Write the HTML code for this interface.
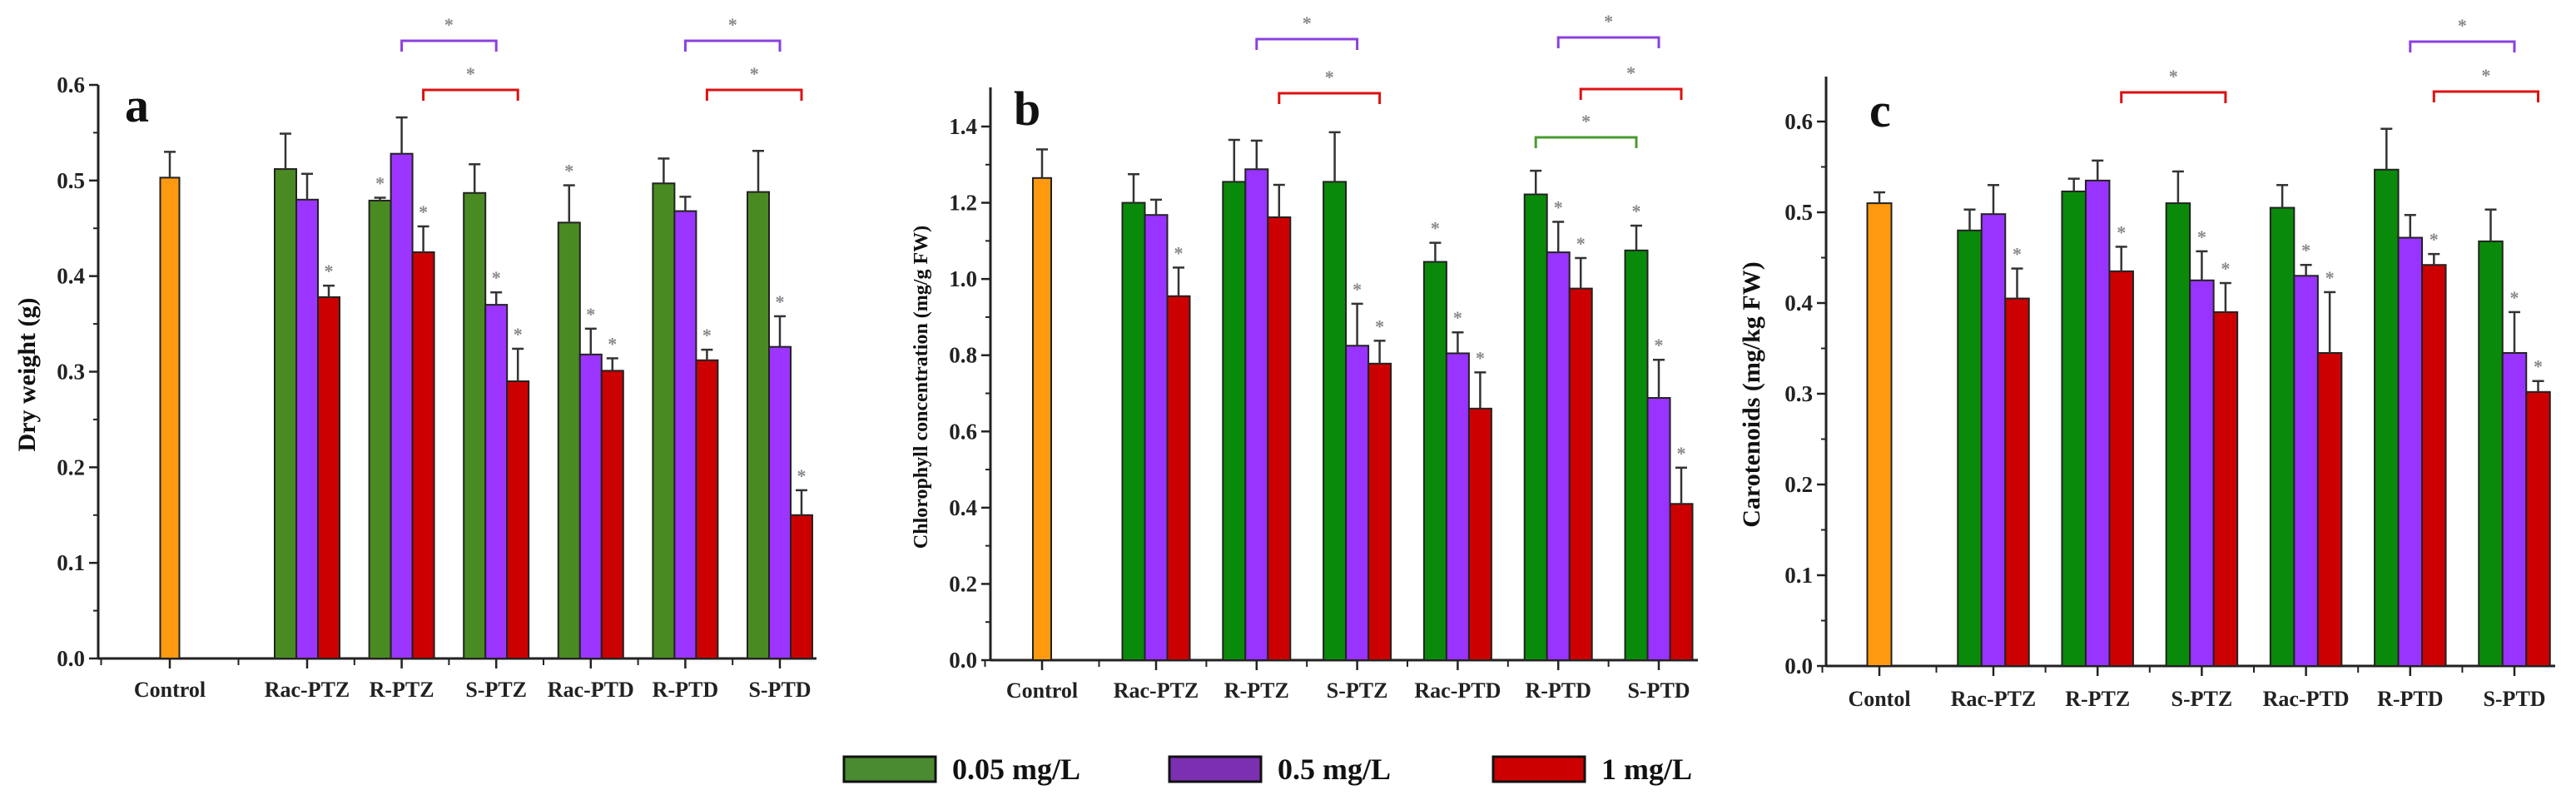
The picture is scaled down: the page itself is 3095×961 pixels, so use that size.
<!DOCTYPE html>
<html><head><meta charset="utf-8"><style>
html,body{margin:0;padding:0;background:#fff;}
svg{display:block;font-family:"Liberation Serif",serif;font-weight:bold;}
</style></head><body>
<svg id="fig" width="3095" height="961" viewBox="0 0 3095 961" xmlns="http://www.w3.org/2000/svg"></svg>
<script>
// ---------- data ----------
const categories = ['Rac-PTZ','R-PTZ','S-PTZ','Rac-PTD','R-PTD','S-PTD'];
const seriesNames = ['0.05 mg/L','0.5 mg/L','1 mg/L'];
// panel a: dry weight
const aControl = 0.503, aControlErr = 0.027;
const aLow  = [0.512,0.479,0.487,0.456,0.497,0.488];
const aMid  = [0.480,0.528,0.370,0.318,0.468,0.326];
const aHigh = [0.378,0.425,0.290,0.301,0.312,0.150];
const aLowErr  = [0.037,0.003,0.030,0.039,0.026,0.043];
const aMidErr  = [0.027,0.038,0.013,0.027,0.015,0.032];
const aHighErr = [0.012,0.027,0.034,0.013,0.011,0.026];
const aLowStar  = [0,1,0,1,0,0];
const aMidStar  = [0,0,1,1,0,1];
const aHighStar = [1,1,1,1,1,1];
const aTicks = ['0.0','0.1','0.2','0.3','0.4','0.5','0.6'];
// panel b: chlorophyll
const bControl = 1.265, bControlErr = 0.075;
const bLow  = [1.200,1.255,1.255,1.045,1.222,1.075];
const bMid  = [1.168,1.288,0.825,0.805,1.070,0.688];
const bHigh = [0.955,1.162,0.778,0.660,0.975,0.410];
const bLowErr  = [0.075,0.110,0.130,0.050,0.062,0.065];
const bMidErr  = [0.040,0.075,0.110,0.055,0.080,0.100];
const bHighErr = [0.075,0.085,0.060,0.095,0.080,0.095];
const bLowStar  = [0,0,0,1,0,1];
const bMidStar  = [0,0,1,1,1,1];
const bHighStar = [1,0,1,1,1,1];
const bTicks = ['0.0','0.2','0.4','0.6','0.8','1.0','1.2','1.4'];
// panel c: carotenoids
const cControl = 0.510, cControlErr = 0.012;
const cLow  = [0.480,0.523,0.510,0.505,0.547,0.468];
const cMid  = [0.498,0.535,0.425,0.430,0.472,0.345];
const cHigh = [0.405,0.435,0.390,0.345,0.442,0.302];
const cLowErr  = [0.023,0.014,0.035,0.025,0.045,0.035];
const cMidErr  = [0.032,0.022,0.032,0.012,0.025,0.045];
const cHighErr = [0.033,0.027,0.032,0.067,0.012,0.012];
const cLowStar  = [0,0,0,0,0,0];
const cMidStar  = [0,0,1,1,0,1];
const cHighStar = [1,1,1,1,1,1];
const cTicks = ['0.0','0.1','0.2','0.3','0.4','0.5','0.6'];

const NS='http://www.w3.org/2000/svg';
const svg=document.getElementById('fig');
function mk(tag,attrs,parent){const e=document.createElementNS(NS,tag);for(const k in attrs)e.setAttribute(k,attrs[k]);(parent||svg).appendChild(e);return e;}

function panel(cfg){
  const g=mk('g',{});
  
  
  const y=v=>cfg.y0-(v/cfg.vmax)*(cfg.y0-cfg.yTopVal);
  const xc=i=>cfg.gx0+i*cfg.step;
  const xend=cfg.xEnd;
  const ax=mk('line',{x1:cfg.ax,y1:cfg.axTop,x2:cfg.ax,y2:cfg.y0,stroke:'#222','stroke-width':3},g);
  
  
  const bx=mk('line',{x1:cfg.ax,y1:cfg.y0,x2:xend,y2:cfg.y0,stroke:'#222','stroke-width':3},g);
  
  
  const n=cfg.ticks.length;
  for(let i=0;i<n;i++){
    const v=parseFloat(cfg.ticks[i]);const yy=y(v);
    mk('line',{x1:cfg.ax-11,y1:yy,x2:cfg.ax,y2:yy,stroke:'#222','stroke-width':2.5},g);
    const t=mk('text',{x:cfg.ax-16,y:yy+9,'text-anchor':'end','font-size':27,fill:'#222'},g);
    t.textContent=cfg.ticks[i];
    
    
    if(i<n-1){const mv=(v+parseFloat(cfg.ticks[i+1]))/2;mk('line',{x1:cfg.ax-6,y1:y(mv),x2:cfg.ax,y2:y(mv),stroke:'#222','stroke-width':2},g);}
  }
  const boundaries=[cfg.ctrlX-(cfg.gx0-cfg.ctrlX)/2, cfg.ctrlX+(cfg.gx0-cfg.ctrlX)/2];
  for(let i=0;i<6;i++){boundaries.push(xc(i)+cfg.step/2);}
  [cfg.ctrlX].concat(categories.map((c,i)=>xc(i))).forEach(xx=>mk('line',{x1:xx,y1:cfg.y0,x2:xx,y2:cfg.y0+12,stroke:'#222','stroke-width':2.5},g));
  boundaries.forEach(xx=>{if(xx<xend)mk('line',{x1:xx,y1:cfg.y0,x2:xx,y2:cfg.y0+8,stroke:'#222','stroke-width':2});});
  const cl=mk('text',{x:cfg.ctrlX,y:cfg.labY,'text-anchor':'middle','font-size':26,fill:'#222'},g);
  cl.textContent=cfg.ctrlName;
  
  
  categories.forEach((c,i)=>{const t=mk('text',{x:xc(i),y:cfg.labY,'text-anchor':'middle','font-size':26,fill:'#222'},g);t.textContent=c;
    
    });
  function bar(xcen,w,v,e,col,star,name){
    const r=mk('rect',{x:xcen-w/2,y:y(v),width:w,height:cfg.y0-y(v),fill:col,stroke:'#222','stroke-width':2},g);
    
    
    const yt=y(v+e);
    mk('line',{x1:xcen,y1:y(v),x2:xcen,y2:yt,stroke:'#333','stroke-width':2.5},g);
    mk('line',{x1:xcen-7,y1:yt,x2:xcen+7,y2:yt,stroke:'#333','stroke-width':2.5},g);
    if(star){const s=mk('text',{x:xcen,y:yt-10,'text-anchor':'middle','font-size':22,fill:'#888'},g);s.textContent='*';
      
      }
  }
  bar(cfg.ctrlX,cfg.cw,cfg.ctrl,cfg.ctrlErr,'#ff9910',0,'bar-control');
  const sets=[[cfg.low,cfg.lowErr,cfg.lowStar,cfg.cols[0],'low'],[cfg.mid,cfg.midErr,cfg.midStar,cfg.cols[1],'mid'],[cfg.high,cfg.highErr,cfg.highStar,cfg.cols[2],'high']];
  categories.forEach((c,i)=>{sets.forEach((s,k)=>{bar(xc(i)+(k-1)*cfg.bw,cfg.bw,s[0][i],s[1][i],s[3],s[2][i],'bar-'+c+'-'+s[4]);});});
  cfg.brackets.forEach(b=>{
    const x1=xc(b[0])+(b[2]-1)*cfg.bw,x2=xc(b[1])+(b[2]-1)*cfg.bw,yy=b[3];
    const p=mk('path',{d:`M${x1},${yy+13} V${yy} H${x2} V${yy+13}`,fill:'none',stroke:cfg.bcols[b[2]],'stroke-width':3},g);
    
    
    const s=mk('text',{x:(x1+x2)/2,y:yy-12,'text-anchor':'middle','font-size':22,fill:'#888'},g);s.textContent='*';
    
    
  });
  const L=mk('text',{x:cfg.letterX,y:cfg.letterY,'font-size':58,fill:'#111'},g);L.textContent=cfg.id;
  
  
  const yt=mk('text',{x:cfg.ylx,y:cfg.lyy,'text-anchor':'middle','font-size':cfg.ylfs,fill:'#111',transform:`rotate(-90 ${cfg.ylx} ${cfg.lyy})`},g);
  yt.textContent=cfg.ylabel;
  
  
}

panel({id:'a',ax:118,axTop:102,y0:791,yTopVal:102,vmax:0.6,xEnd:981,gx0:369,step:113.6,ctrlX:204,cw:23,bw:26,labY:837,
  ticks:aTicks,ctrl:aControl,ctrlErr:aControlErr,ctrlName:'Control',low:aLow,mid:aMid,high:aHigh,lowErr:aLowErr,midErr:aMidErr,highErr:aHighErr,
  lowStar:aLowStar,midStar:aMidStar,highStar:aHighStar,cols:['#4a8a22','#9b35ff','#cc0000'],bcols:['#4a8a22','#8a40e0','#dd1111'],
  brackets:[[1,2,1,49],[1,2,2,108],[4,5,1,49],[4,5,2,108]],letterX:150,letterY:146,ylx:42,lyy:450,ylfs:30,ylabel:'Dry weight (g)'});
panel({id:'b',ax:1190,axTop:105,y0:793,yTopVal:152,vmax:1.4,xEnd:2040,gx0:1389,step:120.8,ctrlX:1252,cw:22,bw:27,labY:838,
  ticks:bTicks,ctrl:bControl,ctrlErr:bControlErr,ctrlName:'Control',low:bLow,mid:bMid,high:bHigh,lowErr:bLowErr,midErr:bMidErr,highErr:bHighErr,
  lowStar:bLowStar,midStar:bMidStar,highStar:bHighStar,cols:['#0a8a0a','#9933ff','#cc0000'],bcols:['#4a9a30','#8a40e0','#dd1111'],
  brackets:[[1,2,1,47],[1,2,2,112],[4,5,1,45],[4,5,2,107],[4,5,0,165]],letterX:1218,letterY:150,ylx:1114,lyy:465,ylfs:24,ylabel:'Chlorophyll concentration (mg/g FW)'});
panel({id:'c',ax:2194,axTop:92,y0:800,yTopVal:146,vmax:0.6,xEnd:3070,gx0:2395,step:125.2,ctrlX:2258,cw:29,bw:28.5,labY:848,
  ticks:cTicks,ctrl:cControl,ctrlErr:cControlErr,ctrlName:'Contol',low:cLow,mid:cMid,high:cHigh,lowErr:cLowErr,midErr:cMidErr,highErr:cHighErr,
  lowStar:cLowStar,midStar:cMidStar,highStar:cHighStar,cols:['#0a8a0a','#9933ff','#cc0000'],bcols:['#4a9a30','#8a40e0','#dd1111'],
  brackets:[[1,2,2,111],[4,5,1,50],[4,5,2,110]],letterX:2246,letterY:152,ylx:2114,lyy:474,ylfs:30,ylabel:'Carotenoids (mg/kg FW)'});

const legCols=['#4a8a30','#7a30b0','#cc0000'];
const legX=[1014,1405,1794];
seriesNames.forEach((s,i)=>{
  const r=mk('rect',{x:legX[i],y:909,width:110,height:30,fill:legCols[i],stroke:'#111','stroke-width':3});
  
  
  const t=mk('text',{x:legX[i]+130,y:936,'font-size':36,fill:'#111'});
  t.textContent=s;
  
  
});
</script>
</body></html>
